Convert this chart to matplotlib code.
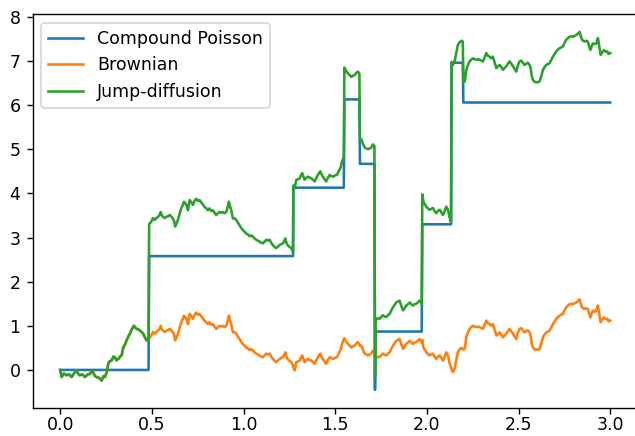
import numpy as np
import matplotlib
matplotlib.use("Agg")
import matplotlib.pyplot as plt

# Compound Poisson: jump times and the level reached after each jump (starts at 0)
cp_times = [0.485, 1.272, 1.550, 1.635, 1.717, 1.720, 1.975, 2.135, 2.199]
cp_levels = [2.58, 4.13, 6.13, 4.67, -0.45, 0.87, 3.30, 6.96, 6.06]

# Brownian path (time, value)
bm_t = [0.000, 0.008, 0.020, 0.035, 0.050, 0.062, 0.075, 0.089, 0.100, 0.107,
        0.120, 0.135, 0.150, 0.162, 0.172, 0.180, 0.190, 0.198, 0.212, 0.226,
        0.236, 0.244, 0.254, 0.262, 0.270, 0.280, 0.290, 0.298, 0.307, 0.317,
        0.326, 0.335, 0.344, 0.352, 0.362, 0.371, 0.380, 0.390, 0.402, 0.410,
        0.417, 0.426, 0.435, 0.444, 0.453, 0.462, 0.471, 0.478, 0.482, 0.485,
        0.497, 0.506, 0.515, 0.524, 0.533, 0.541, 0.548, 0.555, 0.561, 0.570,
        0.578, 0.588, 0.597, 0.606, 0.615, 0.622, 0.627, 0.635, 0.642, 0.651,
        0.660, 0.668, 0.675, 0.682, 0.688, 0.697, 0.706, 0.715, 0.724, 0.733,
        0.742, 0.751, 0.760, 0.768, 0.775, 0.786, 0.797, 0.806, 0.815, 0.824,
        0.833, 0.842, 0.851, 0.860, 0.869, 0.878, 0.887, 0.896, 0.906, 0.913,
        0.920, 0.927, 0.933, 0.942, 0.951, 0.960, 0.969, 0.978, 0.987, 0.996,
        1.006, 1.015, 1.024, 1.033, 1.042, 1.051, 1.060, 1.069, 1.078, 1.087,
        1.096, 1.106, 1.115, 1.124, 1.133, 1.142, 1.151, 1.160, 1.169, 1.178,
        1.187, 1.196, 1.205, 1.215, 1.222, 1.228, 1.234, 1.240, 1.250, 1.260,
        1.267, 1.270, 1.272, 1.279, 1.284, 1.288, 1.297, 1.306, 1.313, 1.320,
        1.326, 1.333, 1.342, 1.350, 1.360, 1.370, 1.379, 1.388, 1.397, 1.406,
        1.413, 1.419, 1.426, 1.432, 1.441, 1.450, 1.460, 1.470, 1.480, 1.490,
        1.500, 1.510, 1.520, 1.530, 1.538, 1.547, 1.550, 1.557, 1.564, 1.570,
        1.579, 1.588, 1.597, 1.606, 1.615, 1.624, 1.632, 1.635, 1.643, 1.652,
        1.660, 1.670, 1.679, 1.688, 1.697, 1.706, 1.714, 1.717, 1.720, 1.730,
        1.742, 1.751, 1.760, 1.770, 1.779, 1.788, 1.797, 1.806, 1.815, 1.824,
        1.833, 1.842, 1.851, 1.860, 1.870, 1.879, 1.888, 1.897, 1.906, 1.915,
        1.924, 1.933, 1.942, 1.951, 1.960, 1.968, 1.972, 1.975, 1.982, 1.990,
        1.997, 2.006, 2.015, 2.024, 2.033, 2.042, 2.051, 2.060, 2.070, 2.079,
        2.088, 2.097, 2.106, 2.115, 2.124, 2.132, 2.135, 2.142, 2.151, 2.160,
        2.169, 2.176, 2.182, 2.190, 2.196, 2.199, 2.207, 2.215, 2.224, 2.233,
        2.242, 2.251, 2.260, 2.270, 2.279, 2.288, 2.297, 2.306, 2.315, 2.324,
        2.333, 2.342, 2.351, 2.360, 2.370, 2.379, 2.388, 2.397, 2.406, 2.415,
        2.424, 2.433, 2.442, 2.451, 2.460, 2.470, 2.479, 2.488, 2.497, 2.506,
        2.515, 2.524, 2.533, 2.542, 2.551, 2.560, 2.566, 2.572, 2.578, 2.587,
        2.596, 2.606, 2.615, 2.624, 2.633, 2.642, 2.651, 2.660, 2.669, 2.679,
        2.688, 2.697, 2.706, 2.715, 2.724, 2.733, 2.742, 2.751, 2.760, 2.770,
        2.779, 2.788, 2.797, 2.806, 2.815, 2.824, 2.833, 2.840, 2.846, 2.853,
        2.860, 2.869, 2.878, 2.885, 2.892, 2.899, 2.906, 2.915, 2.924, 2.933,
        2.941, 2.948, 2.957, 2.966, 2.975, 2.984, 2.991, 3.000]
bm_v = [0.00, -0.16, -0.08, -0.12, -0.10, -0.16, -0.08, -0.01, -0.10, -0.12,
        -0.10, -0.16, -0.10, -0.09, -0.03, -0.06, -0.14, -0.16, -0.18, -0.24,
        -0.14, -0.16, -0.05, 0.14, 0.20, 0.21, 0.30, 0.29, 0.22, 0.25,
        0.30, 0.33, 0.51, 0.56, 0.67, 0.75, 0.82, 0.92, 1.00, 0.96,
        0.93, 0.92, 0.89, 0.86, 0.82, 0.74, 0.67, 0.70, 0.66, 0.72,
        0.78, 0.86, 0.82, 0.86, 0.89, 0.92, 1.00, 0.92, 0.89, 0.86,
        0.89, 0.90, 0.93, 0.90, 0.85, 0.78, 0.67, 0.74, 0.82, 0.95,
        1.08, 1.15, 1.23, 1.20, 1.16, 1.04, 1.27, 1.22, 1.16, 1.25,
        1.30, 1.25, 1.27, 1.22, 1.19, 1.12, 1.08, 1.04, 1.08, 1.02,
        1.04, 0.98, 0.93, 0.97, 1.00, 0.98, 1.00, 0.97, 1.00, 1.10,
        1.23, 1.12, 1.04, 0.85, 0.86, 0.82, 0.76, 0.70, 0.64, 0.59,
        0.55, 0.51, 0.49, 0.45, 0.47, 0.44, 0.40, 0.37, 0.35, 0.33,
        0.30, 0.29, 0.33, 0.37, 0.35, 0.37, 0.30, 0.25, 0.21, 0.18,
        0.21, 0.25, 0.27, 0.29, 0.34, 0.40, 0.30, 0.25, 0.21, 0.18,
        0.12, 0.10, 0.05, -0.01, 0.10, 0.18, 0.19, 0.21, 0.28, 0.33,
        0.26, 0.18, 0.22, 0.25, 0.23, 0.21, 0.18, 0.14, 0.22, 0.29,
        0.34, 0.37, 0.30, 0.25, 0.20, 0.14, 0.22, 0.29, 0.26, 0.25,
        0.28, 0.29, 0.38, 0.46, 0.60, 0.70, 0.72, 0.66, 0.62, 0.59,
        0.55, 0.51, 0.54, 0.55, 0.60, 0.63, 0.58, 0.55, 0.55, 0.45,
        0.37, 0.35, 0.33, 0.35, 0.37, 0.44, 0.40, 0.28, 0.25, 0.30,
        0.29, 0.33, 0.37, 0.34, 0.33, 0.37, 0.40, 0.48, 0.55, 0.60,
        0.66, 0.68, 0.70, 0.59, 0.48, 0.53, 0.59, 0.62, 0.66, 0.62,
        0.59, 0.62, 0.63, 0.66, 0.70, 0.66, 0.62, 0.68, 0.50, 0.45,
        0.40, 0.36, 0.33, 0.35, 0.37, 0.30, 0.25, 0.30, 0.33, 0.27,
        0.21, 0.30, 0.40, 0.33, 0.15, 0.05, 0.02, -0.05, 0.03, 0.21,
        0.40, 0.45, 0.48, 0.50, 0.48, 0.46, 0.48, 0.74, 0.85, 0.93,
        0.97, 1.00, 0.98, 0.97, 0.98, 0.97, 0.95, 0.93, 1.02, 1.12,
        1.06, 1.04, 1.00, 1.04, 0.90, 0.78, 0.82, 0.85, 0.80, 0.74,
        0.78, 0.82, 0.88, 0.93, 0.88, 0.82, 0.76, 0.70, 0.85, 0.93,
        0.95, 0.90, 0.85, 0.88, 0.90, 0.85, 0.78, 0.60, 0.52, 0.47,
        0.46, 0.46, 0.48, 0.60, 0.74, 0.80, 0.85, 0.87, 0.89, 0.97,
        1.04, 1.10, 1.16, 1.20, 1.23, 1.25, 1.27, 1.35, 1.42, 1.46,
        1.49, 1.50, 1.49, 1.51, 1.53, 1.56, 1.60, 1.50, 1.42, 1.40,
        1.38, 1.40, 1.38, 1.28, 1.19, 1.28, 1.34, 1.32, 1.34, 1.46,
        1.25, 1.08, 1.14, 1.19, 1.15, 1.16, 1.10, 1.12]

series_names = ["Compound Poisson", "Brownian", "Jump-diffusion"]
x_ticks = [0.0, 0.5, 1.0, 1.5, 2.0, 2.5, 3.0]
y_ticks = [0, 1, 2, 3, 4, 5, 6, 7, 8]

t = np.array(bm_t)
bm = np.array(bm_v)
levels = np.concatenate([[0.0], cp_levels])
cp = levels[np.searchsorted(np.array(cp_times), t, side="right")]
jd = cp + bm

fig = plt.figure(figsize=(635 / 125, 436 / 125), dpi=125)
ax = fig.add_axes([32.7 / 635, 28.3 / 436, 605.0 / 635, 393.7 / 436])
ax.plot(t, cp, label=series_names[0])
ax.plot(t, bm, label=series_names[1])
ax.plot(t, jd, label=series_names[2])
ax.set_xticks(x_ticks)
ax.set_yticks(y_ticks)
ax.tick_params(axis="x", pad=1.5)
ax.legend(loc="upper left")
fig.savefig("out.png", dpi=125)
